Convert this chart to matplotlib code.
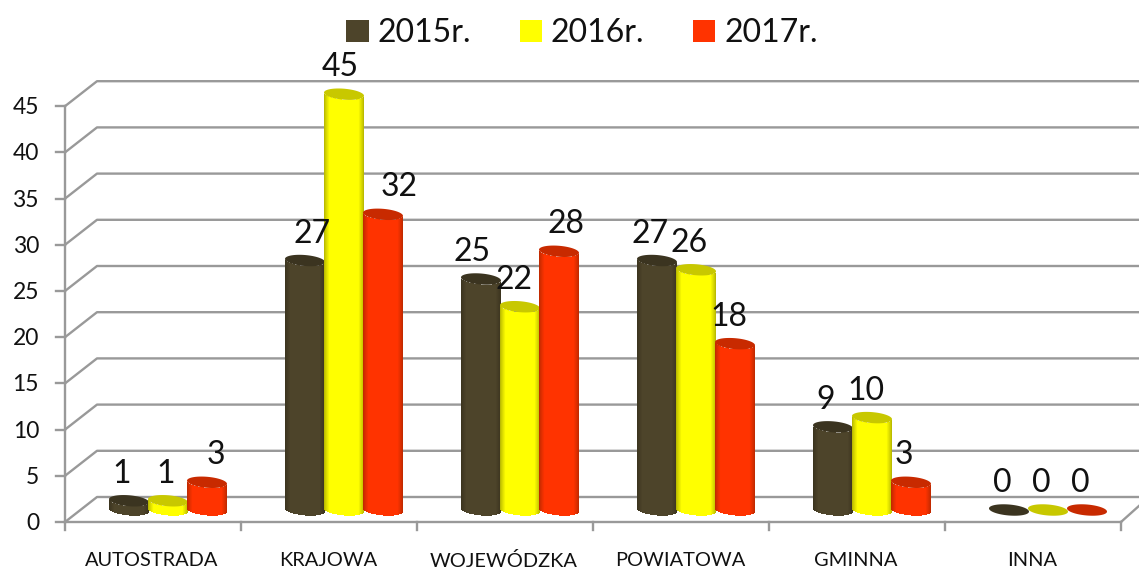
import numpy as np
import matplotlib
matplotlib.use("Agg")
import matplotlib.pyplot as plt
from matplotlib.patches import Patch, Polygon
from matplotlib.colors import to_rgb

categories = ["AUTOSTRADA", "KRAJOWA", "WOJEWÓDZKA", "POWIATOWA", "GMINNA", "INNA"]
series_names = ["2015r.", "2016r.", "2017r."]
values_2015 = [1, 27, 25, 27, 9, 0]
values_2016 = [1, 45, 22, 26, 10, 0]
values_2017 = [3, 32, 28, 18, 3, 0]
y_ticks = [0, 5, 10, 15, 20, 25, 30, 35, 40, 45]

W, H = 1139, 572
PX_X = 176.0          # px per category
PX_Y = 9.24           # px per value unit
X0_PX, Y0_PX = 168, 522


def dx(px):
    return px / PX_X


def dy(px):
    return px / PX_Y


fig = plt.figure(figsize=(W / 100, H / 100), dpi=100)
plt.rcParams["font.family"] = ["Lato", "DejaVu Sans"]
ax = fig.add_axes([0, 0, 1, 1])
ax.set_xlim(-X0_PX / PX_X, (W - X0_PX) / PX_X)
ax.set_ylim((Y0_PX - H) / PX_Y, Y0_PX / PX_Y)
ax.axis("off")

GRID = "#999999"
LW = 1.7
DEPTH_X, DEPTH_Y = dx(32), dy(25)
left = dx(65 - X0_PX)
right = left + len(categories)

# walls and grid
for v in y_ticks:
    ax.plot([left, left + DEPTH_X, right + dx(19)], [v, v + DEPTH_Y, v + DEPTH_Y],
            color=GRID, lw=LW, zorder=1, solid_capstyle="butt")
    ax.plot([left - dx(9), left], [v, v], color=GRID, lw=LW, zorder=1)
    ax.text(left - dx(26), v - dy(1.5), str(v), ha="right", va="center", fontsize=16.5, color="#111111")
ax.plot([left, left], [0, 45], color=GRID, lw=LW, zorder=1)
ax.plot([left, right], [0, 0], color=GRID, lw=LW, zorder=1)
ax.plot([right, right + dx(19)], [0, dy(17)], color=GRID, lw=LW, zorder=1)
for i in range(len(categories) + 1):
    ax.plot([left + i] * 2, [0, -dy(8)], color=GRID, lw=LW, zorder=1)

# category labels
for i, c in enumerate(categories):
    ax.text(i - dx(16), -dy(39), c, ha="center", va="center",
            fontsize=14.4, color="#111111")

# cylinders
BAR_W = 40
OFFSET = 39
BASE = dy(12)
RX, RY = 20, 5.5
TILT = -0.08
COLORS = [
    ("#4d442a", "#3b3420", "#39321d"),
    ("#ffff00", "#c8c800", "#b0b000"),
    ("#ff3300", "#c82a00", "#b82800"),
]
STRIPS = 40
LABEL_DX = [
    [-7, 7, -9, -7, -7, -7],
    [-2, -4, -6, -7, -6, -7],
    [9, 16, 7, -6, -7, -7],
]
all_values = [values_2015, values_2016, values_2017]

for s, (vals, (body, top, edge)) in enumerate(zip(all_values, COLORS)):
    body_c, edge_c = np.array(to_rgb(body)), np.array(to_rgb(edge))
    for i, v in enumerate(vals):
        cx = i + dx((s - 1) * OFFSET)
        if v > 0:
            for k in range(STRIPS):
                u = (k + 0.5) / STRIPS * 2 - 1
                w = np.clip((1 - abs(u)) / 0.28, 0, 1) ** 0.8
                col = edge_c + (body_c - edge_c) * w
                low = -RY * np.sqrt(1 - u ** 2) + TILT * u * RX
                ax.bar(cx + dx(u * RX), v, width=dx(BAR_W / STRIPS + 0.5),
                       bottom=BASE + dy(low), color=col, linewidth=0, zorder=3 + s + i * 5)
        t = np.linspace(0, 2 * np.pi, 80)
        ex = RX * np.cos(t)
        ey = RY * np.sin(t) + TILT * ex
        poly = np.column_stack([cx + dx(ex), v + BASE + dy(ey)])
        ax.add_patch(Polygon(poly, closed=True, facecolor=top, edgecolor="none",
                             zorder=3.5 + s + i * 5))
        ax.annotate(str(v), (cx, v + BASE), xytext=(LABEL_DX[s][i] * 0.72, 27 * 0.72),
                    textcoords="offset points", ha="center", va="center",
                    fontsize=23, color="#111111", zorder=60)

handles = [Patch(facecolor=c[0], edgecolor="none") for c in COLORS]
ax.legend(handles, series_names, ncol=3, frameon=False, fontsize=23,
          loc="center", bbox_to_anchor=(582 / W, 1 - 33 / H),
          handlelength=0.7, handleheight=0.7, handletextpad=0.28,
          columnspacing=1.52, borderpad=0, borderaxespad=0, labelcolor="#111111")

fig.savefig("out.png", dpi=100)
